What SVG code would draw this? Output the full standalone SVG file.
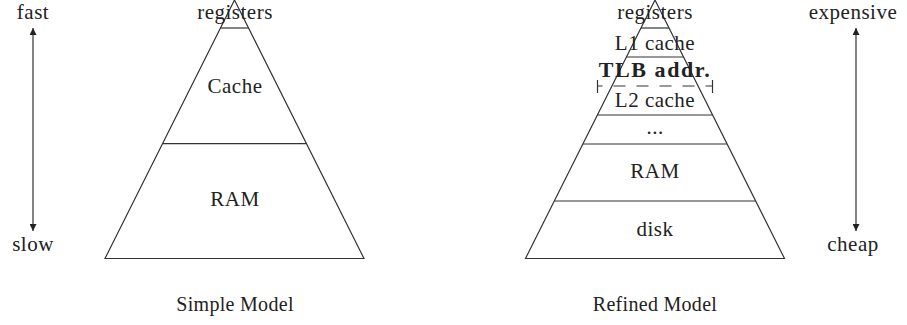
<svg xmlns="http://www.w3.org/2000/svg" width="907" height="325" viewBox="0 0 907 325">
<style>
.ln{stroke:#333;stroke-width:1.2;fill:none}
text{font-family:"Liberation Serif","DejaVu Serif",serif;font-size:21px;letter-spacing:0.5px;fill:#222;text-anchor:middle}
.b{font-weight:bold;letter-spacing:1.6px;font-size:22px}
.cap{font-size:20px;letter-spacing:0.3px}
</style>
<defs>
<marker id="ah" viewBox="0 0 10 10" refX="10" refY="5" markerWidth="9" markerHeight="7" orient="auto" markerUnits="userSpaceOnUse">
<path d="M0,0 L10,5 L0,10 Z" fill="#222"/>
</marker>
</defs>
<rect width="907" height="325" fill="#fff"/>
<g id="simple">
<path class="ln" d="M234.5,0 L105,258.5 L364,258.5 Z"/>
<line class="ln" x1="220.5" y1="28" x2="248.5" y2="28"/>
<line class="ln" x1="162.7" y1="143.6" x2="306.3" y2="143.6"/>
<text x="235" y="19">registers</text>
<text x="235" y="93">Cache</text>
<text x="235" y="206">RAM</text>
<text class="cap" x="235" y="311">Simple Model</text>
</g>
<g id="refined">
<path class="ln" d="M655,0 L525.5,258.5 L784.5,258.5 Z"/>
<line class="ln" x1="641" y1="28" x2="669" y2="28"/>
<line class="ln" x1="626.5" y1="57" x2="683.5" y2="57"/>
<line class="ln" x1="597.5" y1="86" x2="712.5" y2="86" stroke-dasharray="5,11,12,11,12,11,12,11,12,11,8"/>
<line class="ln" x1="597.5" y1="80" x2="597.5" y2="93"/>
<line class="ln" x1="712.5" y1="80" x2="712.5" y2="93"/>
<line class="ln" x1="597.5" y1="115" x2="712.5" y2="115"/>
<line class="ln" x1="583" y1="144" x2="727" y2="144"/>
<line class="ln" x1="554.5" y1="201" x2="755.5" y2="201"/>
<text x="655" y="19">registers</text>
<text x="655" y="50">L1 cache</text>
<text class="b" x="655" y="77">TLB addr.</text>
<text x="655" y="107">L2 cache</text>
<text x="655" y="134">...</text>
<text x="655" y="178">RAM</text>
<text x="655" y="236">disk</text>
<text class="cap" x="655" y="311">Refined Model</text>
</g>
<g id="speed">
<text x="33" y="19">fast</text>
<text x="33" y="251">slow</text>
</g>
<g id="cost">
<text x="853" y="19">expensive</text>
<text x="853" y="251">cheap</text>
</g>
<g id="connectors">
<line class="ln" x1="33" y1="130" x2="33" y2="28" marker-end="url(#ah)"/>
<line class="ln" x1="33" y1="130" x2="33" y2="231" marker-end="url(#ah)"/>
<line class="ln" x1="856" y1="130" x2="856" y2="28" marker-end="url(#ah)"/>
<line class="ln" x1="856" y1="130" x2="856" y2="231" marker-end="url(#ah)"/>
</g>
</svg>
